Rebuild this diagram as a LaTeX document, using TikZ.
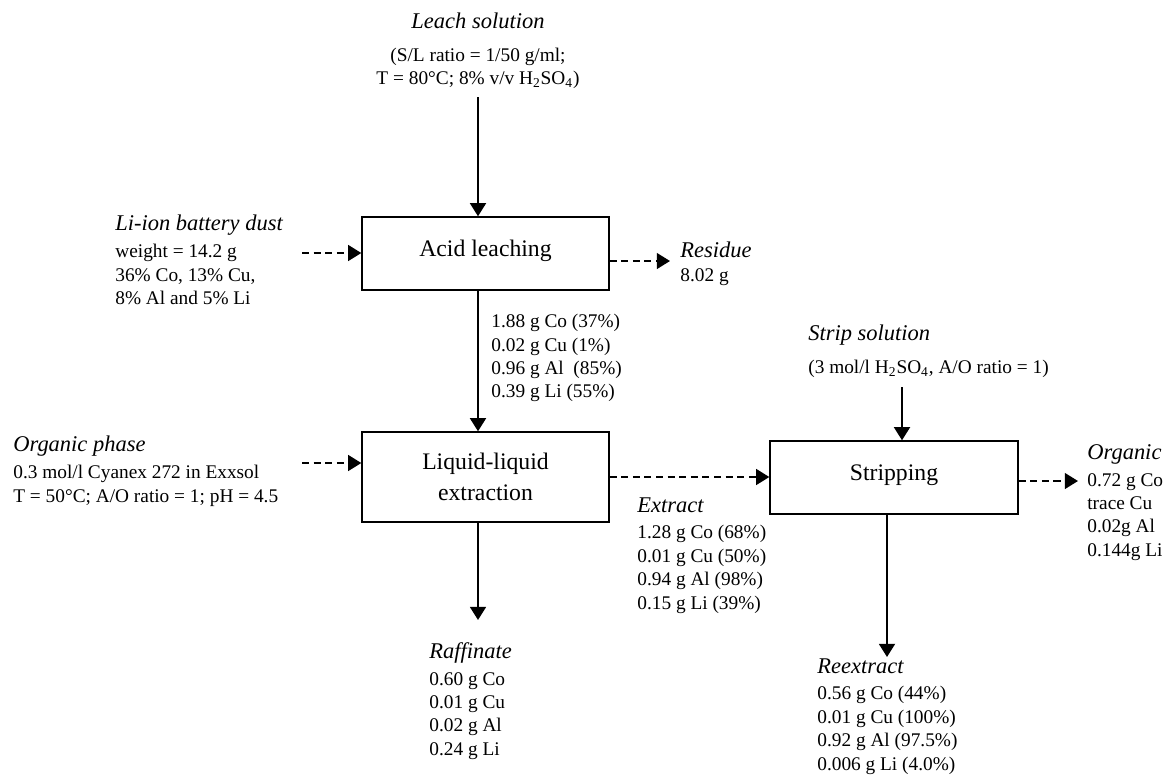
\documentclass[tikz,border=0pt]{standalone}
\usepackage{fontspec}
\setmainfont{Liberation Serif}
\usepackage{tikz}
\usetikzlibrary{arrows.meta}
\newcommand{\flowcolor}{black}
\newcommand{\flowthick}{1.4pt}
\newcommand{\boxthick}{0.8pt}
\newcommand{\headfont}{\fontsize{12.8}{15}\selectfont\itshape}
\newcommand{\bodyfont}{\fontsize{11}{13.3}\selectfont}
\newcommand{\stagefont}{\fontsize{13.5}{18}\selectfont}

\begin{document}
\begin{tikzpicture}[x=0.02cm, y=-0.02cm,
  stage/.style={draw, line width=\boxthick, rectangle, font=\stagefont, align=center, minimum width=4.94cm},
  info/.style={inner sep=0pt, font=\bodyfont, align=left, anchor=north west},
  flow/.style={draw=\flowcolor, line width=\flowthick, -{Triangle[length=7.5pt,width=9pt]}},
  flowdash/.style={flow, line width=1.1pt, dash pattern=on 4pt off 2.6pt}]
\useasboundingbox (0,0) rectangle (1167,775);
%stages
\node[stage, minimum height=1.46cm, text depth=1.4ex] (acid) at (485.5, 253.5) {Acid leaching};
\node[stage, minimum height=1.8cm] (lle) at (485.5, 477) {Liquid-liquid\\extraction};
\node[stage, minimum height=1.46cm, minimum width=4.96cm, text depth=1.2ex] (strip) at (894, 477.5) {Stripping};
%streams in and out
\node[info, anchor=north, align=center] (leach) at (478, 13) {{\headfont Leach solution}\\[5pt]
  (S/L ratio = 1/50 g/ml;\\
  T = 80°C; 8\% v/v H\textsubscript{2}SO\textsubscript{4})};
\node[info] (dust) at (115, 215) {{\headfont Li-ion battery dust}\\[2pt]
  weight = 14.2 g\\
  36\% Co, 13\% Cu,\\
  8\% Al and 5\% Li};
\node[info] (residue) at (680, 242) {{\headfont Residue}\\[0pt]
  8.02 g};
\node[info] (leached) at (491, 314) {1.88 g Co (37\%)\\
  0.02 g Cu (1\%)\\
  0.96 g Al\ \ (85\%)\\
  0.39 g Li (55\%)};
\node[info] (orgphase) at (13, 436) {{\headfont Organic phase}\\[2pt]
  0.3 mol/l Cyanex 272 in Exxsol\\
  T = 50°C; A/O ratio = 1; pH = 4.5};
\node[info] (stripsol) at (808, 325) {{\headfont Strip solution}\\[5pt]
  (3 mol/l H\textsubscript{2}SO\textsubscript{4}, A/O ratio = 1)};
\node[info] (extract) at (637, 497) {{\headfont Extract}\\[2pt]
  1.28 g Co (68\%)\\
  0.01 g Cu (50\%)\\
  0.94 g Al (98\%)\\
  0.15 g Li (39\%)};
\node[info] (organic) at (1087, 444) {{\headfont Organic}\\[2pt]
  0.72 g Co\\
  trace Cu\\
  0.02g Al\\
  0.144g Li};
\node[info] (raffinate) at (429, 642) {{\headfont Raffinate}\\[2pt]
  0.60 g Co\\
  0.01 g Cu\\
  0.02 g Al\\
  0.24 g Li};
\node[info] (reextract) at (817, 658) {{\headfont Reextract}\\[2pt]
  0.56 g Co (44\%)\\
  0.01 g Cu (100\%)\\
  0.92 g Al (97.5\%)\\
  0.006 g Li (4.0\%)};
%free ends
\coordinate (leachin) at (478, 97);
\coordinate (dustin) at (302, 253);
\coordinate (resout) at (670, 261);
\coordinate (orgin) at (302, 463);
\coordinate (stripin) at (902, 387);
\coordinate (orgout) at (1078, 481);
\coordinate (raffout) at (478, 620);
\coordinate (reout) at (887, 657);
%solid flows
\draw[flow] (leachin) -- (acid.north -| leachin);
\draw[flow] (acid.south -| leachin) -- (lle.north -| leachin);
\draw[flow] (lle.south -| raffout) -- (raffout);
\draw[flow] (stripin) -- (strip.north -| stripin);
\draw[flow] (strip.south -| reout) -- (reout);
%dashed flows
\draw[flowdash] (dustin) -- (dustin -| acid.west);
\draw[flowdash] (resout -| acid.east) -- (resout);
\draw[flowdash] (orgin) -- (orgin -| lle.west);
\draw[flowdash] (lle.east) -- (lle.east -| strip.west);
\draw[flowdash] (orgout -| strip.east) -- (orgout);
\end{tikzpicture}
\end{document}
